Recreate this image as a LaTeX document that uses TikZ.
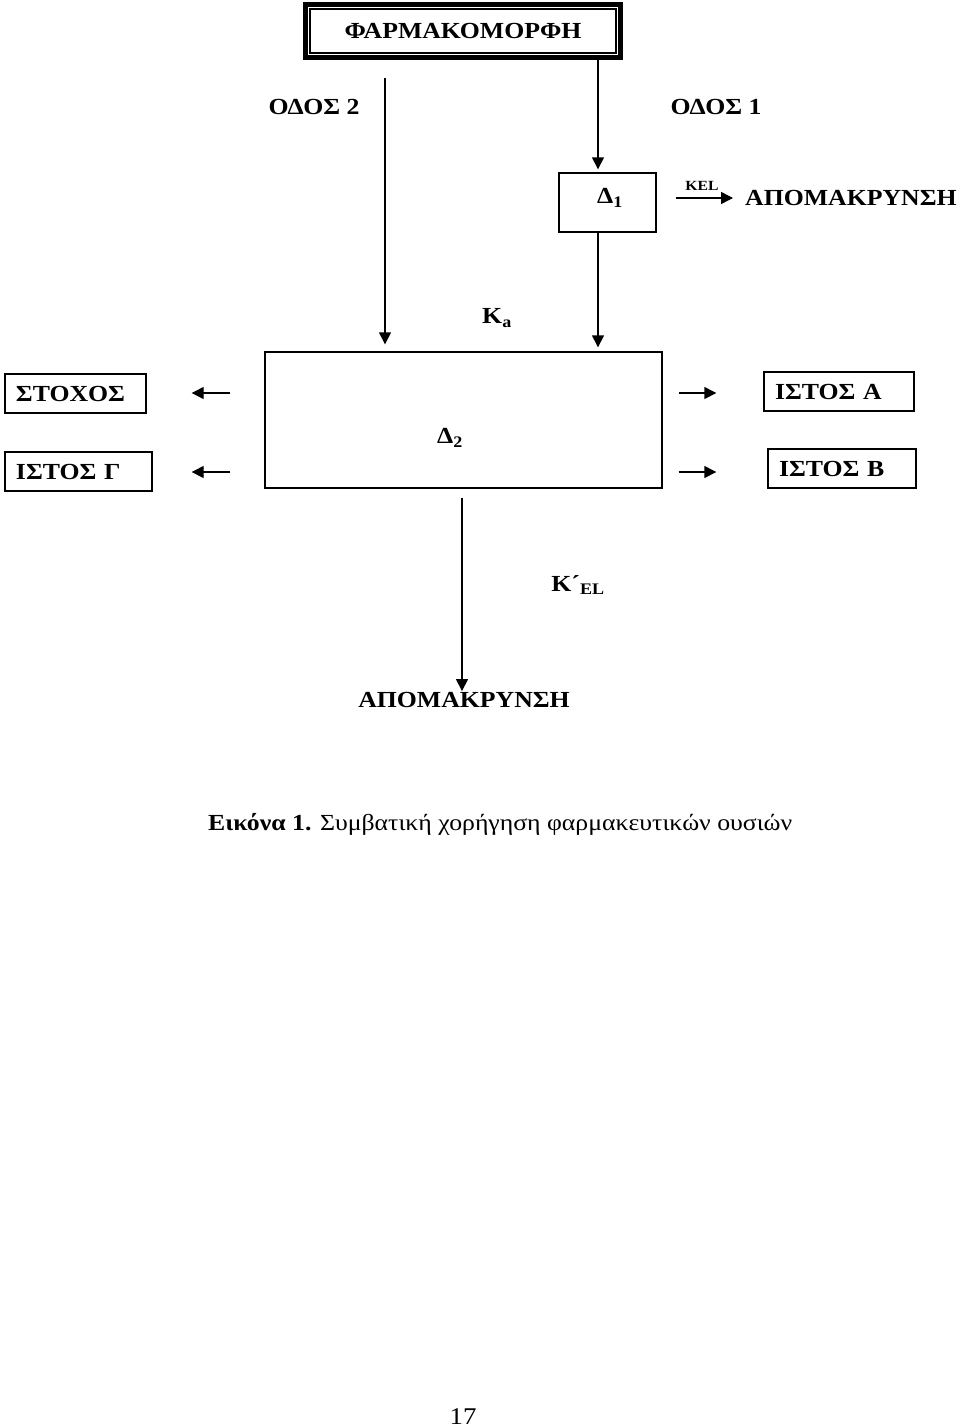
\documentclass[tikz,border=0pt]{standalone}
\usepackage{fontspec}
\setmainfont{Liberation Serif}[FakeStretch=1.12]
\usetikzlibrary{arrows.meta}
\tikzset{
	lbl/.style={font=\bfseries\fontsize{23}{27}\selectfont, inner sep=2},
	small/.style={font=\bfseries\fontsize{14}{16}\selectfont, inner sep=1},
	formbox/.style={draw, line width=5, minimum width=315, minimum height=53, inner sep=0, lbl},
	plainbox/.style={draw, line width=1.4, inner sep=0},
	tissue/.style={draw, line width=1.4, lbl, align=left, inner xsep=11, inner ysep=0, minimum height=39},
	arr/.style={line width=1.4, -{Triangle[length=12, width=12]}},
}
\begin{document}
\begin{tikzpicture}[x=1pt, y=-1pt]
	\useasboundingbox (0,0) rectangle (960,1428);
	% dosage form
	\node[formbox] (form) at (463,31) {ΦΑΡΜΑΚΟΜΟΡΦΗ};
	\draw[line width=1.4] ([shift={(7,7)}]form.north west) rectangle ([shift={(-7,-7)}]form.south east);
	\node[lbl] (road2) at (314,107) {ΟΔΟΣ 2};
	\node[lbl] (road1) at (716,107) {ΟΔΟΣ 1};
	\coordinate (r2) at (385,78);
	\coordinate (r1) at (598,0);
	% first compartment
	\node[plainbox, minimum width=97, minimum height=59] (d1) at (607.5,202.5) {};
	\node[lbl] (d1text) at (610,198) {Δ\textsubscript{1}};
	\node[lbl, anchor=west, inner sep=0] (elim1) at (745,198) {ΑΠΟΜΑΚΡΥΝΣΗ};
	\node[small] (kel) at (702,186) {KEL};
	% second compartment
	\node[plainbox, minimum width=397, minimum height=136] (blood) at (463.5,420) {};
	\node[lbl] (d2) at (450,438) {Δ\textsubscript{2}};
	\node[lbl] (ka) at (497,318) {K\textsubscript{a}};
	\node[tissue, text width=119] (target) at (75.5,393.5) {ΣΤΟΧΟΣ};
	\node[tissue, text width=125] (tissueC) at (78.5,471.5) {ΙΣΤΟΣ Γ};
	\node[tissue, text width=128] (tissueA) at (839,391.5) {ΙΣΤΟΣ Α};
	\node[tissue, text width=126] (tissueB) at (842,468.5) {ΙΣΤΟΣ Β};
	\node[lbl] (kel2) at (578,585) {K´\textsubscript{EL}};
	\node[lbl, inner sep=0] (elim2) at (464,700) {ΑΠΟΜΑΚΡΥΝΣΗ};
	% arrows
	\draw[arr, shorten >=7] (r2) -- (blood.north -| r2);
	\draw[arr, shorten >=3] (form.south -| r1) -- (d1.north -| r1);
	\draw[arr, shorten >=4] (d1.south -| r1) -- (blood.north -| r1);
	\draw[arr, shorten <=19, shorten >=12] (d1.east |- elim1.west) -- (elim1.west);
	\draw[arr, shorten <=34, shorten >=45] (blood.west |- 0,393) -- (target.east |- 0,393);
	\draw[arr, shorten <=34, shorten >=39] (blood.west |- 0,472) -- (tissueC.east |- 0,472);
	\draw[arr, shorten <=16, shorten >=47] (blood.east |- 0,393) -- (tissueA.west |- 0,393);
	\draw[arr, shorten <=16, shorten >=51] (blood.east |- 0,472) -- (tissueB.west |- 0,472);
	\draw[arr, shorten <=9, shorten >=1] (blood.south -| 462,0) -- (elim2.north -| 462,0);
	% caption
	\node[anchor=base west, inner sep=0, font=\fontsize{23}{27}\selectfont] (caption) at (208,830) {\textbf{Εικόνα 1.} Συμβατική χορήγηση φαρμακευτικών ουσιών};
	\node[font=\fontsize{24}{28}\selectfont, inner sep=0] (pagenum) at (463,1417) {17};
\end{tikzpicture}
\end{document}
